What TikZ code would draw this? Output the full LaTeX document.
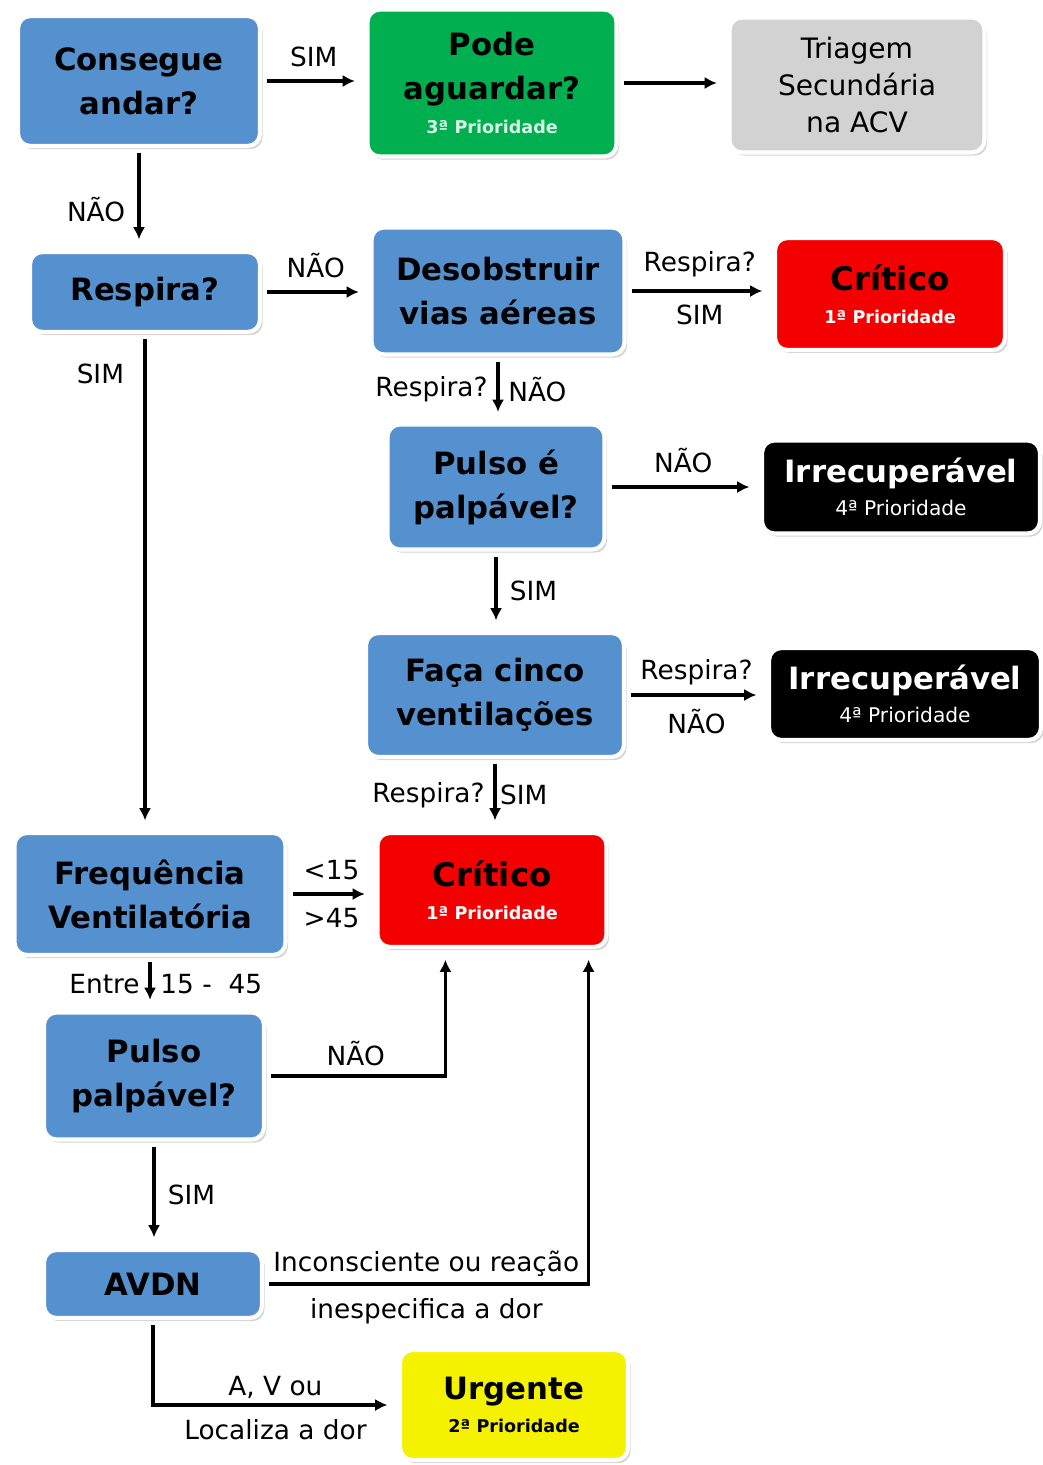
\documentclass[tikz,border=0pt]{standalone}
\usepackage{fontspec}
\setmainfont{DejaVu Sans}
\usetikzlibrary{arrows.meta,calc,shadows}

\definecolor{boxblue}{RGB}{85,145,207}
\definecolor{boxgreen}{RGB}{0,176,80}
\definecolor{boxred}{RGB}{245,0,0}
\definecolor{boxgray}{RGB}{210,210,210}
\definecolor{boxyellow}{RGB}{245,242,0}

% second line of a result box
\newcommand{\prio}[2]{\\[-6pt]{\fontsize{10}{11}\selectfont\color{#1}#2}}

\begin{document}
\begin{tikzpicture}[
		x=0.02cm, y=-0.02cm,
		box/.style={draw=white, line width=2.4pt, rounded corners=7pt, align=center, inner sep=2pt,
			drop shadow={opacity=0.35, shadow xshift=1.5pt, shadow yshift=-1.8pt},
			font=\bfseries\fontsize{17.5}{25}\selectfont},
		question/.style={box, fill=boxblue},
		green/.style={box, fill=boxgreen},
		grey/.style={box, fill=boxgray, font=\mdseries\fontsize{16}{21}\selectfont},
		critical/.style={box, fill=boxred, font=\bfseries\fontsize{18.5}{25}\selectfont},
		lost/.style={box, fill=black, text=white},
		urgent/.style={box, fill=boxyellow},
		lbl/.style={font=\fontsize{15}{18}\selectfont, inner sep=1pt},
		arr/.style={-{Latex[length=7pt,width=7pt]}, line width=1.9pt, shorten <=3pt, shorten >=6pt},
	]
		\useasboundingbox (0,0) rectangle (1043,1465);

		\node (cons) [question, minimum width=4.84cm, minimum height=2.6cm] at (139,81) {Consegue\\andar?};
		\node (pode) [green, minimum width=4.98cm, minimum height=2.94cm] at (492,83) {Pode\\aguardar?\prio{white!85!boxgreen}{3ª Prioridade}};
		\node (tri) [grey, minimum width=5.1cm, minimum height=2.7cm] at (857,85) {Triagem\\Secundária\\na ACV};

		\node (resp) [question, minimum width=4.6cm, minimum height=1.6cm] at (145,292) {Respira?};
		\node (des) [question, minimum width=5.06cm, minimum height=2.54cm] at (498,291) {Desobstruir\\vias aéreas};
		\node (crita) [critical, minimum width=4.6cm, minimum height=2.24cm] at (890,294) {Crítico\prio{white}{1ª Prioridade}};

		\node (pul) [question, minimum width=4.34cm, minimum height=2.5cm] at (496,487) {Pulso é\\palpável?};
		\node (irra) [lost, minimum width=5.56cm, minimum height=1.86cm] at (901,487) {Irrecuperável\prio{white}{\mdseries\fontsize{11.5}{12}\selectfont 4ª Prioridade}};

		\node (faca) [question, minimum width=5.16cm, minimum height=2.48cm] at (495,695) {Faça cinco\\ventilações};
		\node (irrb) [lost, minimum width=5.44cm, minimum height=1.84cm] at (905,694) {Irrecuperável\prio{white}{\mdseries\fontsize{11.5}{12}\selectfont 4ª Prioridade}};

		\node (freq) [question, minimum width=5.42cm, minimum height=2.44cm] at (150,894) {Frequência\\Ventilatória};
		\node (critb) [critical, minimum width=4.58cm, minimum height=2.28cm] at (492,890) {Crítico\prio{white}{1ª Prioridade}};

		\node (pp) [question, minimum width=4.4cm, minimum height=2.54cm] at (154,1076) {Pulso\\palpável?};
		\node (avdn) [question, minimum width=4.36cm, minimum height=1.36cm] at (153,1284) {AVDN};
		\node (urg) [urgent, minimum width=4.56cm, minimum height=2.2cm] at (514,1405) {Urgente\prio{black}{2ª Prioridade}};

		% top row
		\draw[arr] (cons.east) -- (cons.east -| pode.west) node[lbl, midway, above=6pt] (l1) {SIM};
		\draw[arr] (pode.east) -- (pode.east -| tri.west);
		\draw[arr] (cons.south) -- (cons.south |- resp.north) node[lbl, pos=0.6, left=6pt] (l2) {NÃO};

		% airway
		\draw[arr] (resp.east) -- (resp.east -| des.west) node[lbl, midway, above=6pt] (l3) {NÃO};
		\draw[arr] (resp.south) -- (resp.south |- freq.north) node[lbl, pos=0.08, left=10pt] (l4) {SIM};
		\draw[arr] (des.east) -- (des.east -| crita.west)
			node[lbl, midway, above=6pt] (l5) {Respira?}
			node[lbl, midway, below=6pt] (l6) {SIM};
		\draw[arr] (des.south) -- (des.south |- pul.north)
			node[lbl, midway, left=4pt] (l7) {Respira?}
			node[lbl, midway, right=4pt] (l8) {NÃO};
		\draw[arr] (pul.east) -- (pul.east -| irra.west) node[lbl, midway, above=6pt] (l9) {NÃO};
		\draw[arr] (pul.south) -- (pul.south |- faca.north) node[lbl, midway, right=6pt] (l10) {SIM};
		\draw[arr] (faca.east) -- (faca.east -| irrb.west)
			node[lbl, midway, above=4pt] (l11) {Respira?}
			node[lbl, midway, below=6pt] (l12) {NÃO};
		\draw[arr] (faca.south) -- (faca.south |- critb.north)
			node[lbl, midway, left=4pt] (l13) {Respira?}
			node[lbl, midway, right=1pt] (l14) {SIM};

		% breathing rate
		\draw[arr] (freq.east) -- (freq.east -| critb.west)
			node[lbl, midway, above=6pt] (l15) {<15}
			node[lbl, midway, below=6pt] (l16) {>45};
		\draw[arr] (freq.south) -- (freq.south |- pp.north)
			node[lbl, midway, left=4pt] (l17) {Entre}
			node[lbl, midway, right=4pt] (l18) {15 -\ \ 45};
		\draw[arr] (pp.east) -| ([xshift=1.4cm]critb.south west) node[lbl, pos=0.25, above=4pt] (l19) {NÃO};
		\draw[arr] (pp.south) -- (pp.south |- avdn.north) node[lbl, midway, right=6pt] (l20) {SIM};

		% consciousness
		\draw[arr] (avdn.east) -| ([xshift=-0.4cm]critb.south east)
			node[lbl, pos=0.25, above=2pt] (l21) {Inconsciente ou reação}
			node[lbl, pos=0.25, below=6pt] (l22) {inespecifica a dor};
		\draw[arr] (avdn.south) |- (urg.west)
			node[lbl, pos=0.75, above=2pt] (l23) {A, V ou}
			node[lbl, pos=0.75, below=6pt] (l24) {Localiza a dor};
	\end{tikzpicture}
\end{document}
